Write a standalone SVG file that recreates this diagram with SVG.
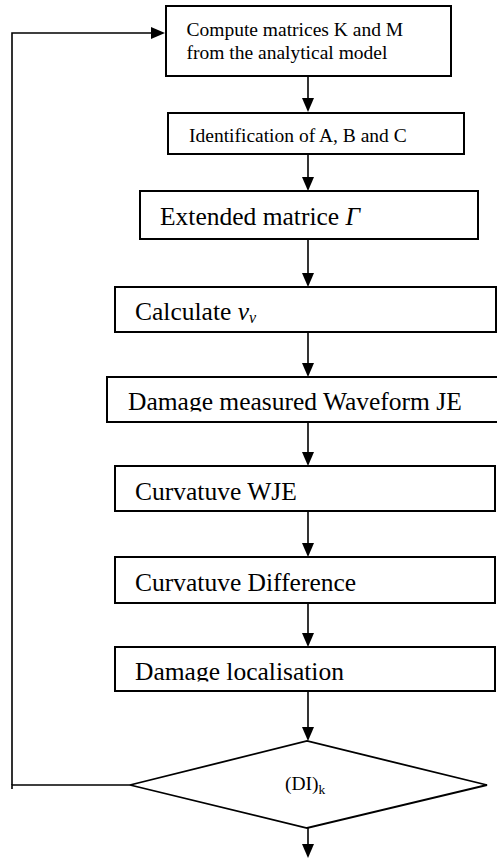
<svg xmlns="http://www.w3.org/2000/svg" width="497" height="862" viewBox="0 0 497 862">
<style>
.box{fill:#fff;stroke:#000;stroke-width:2}
.conn{fill:none;stroke:#000;stroke-width:1.6}
.t{font-family:"Liberation Serif","Times New Roman",serif;fill:#000}
.s{font-size:19.5px}
.l{font-size:25.5px}
</style>
<defs>
<marker id="arr" viewBox="0 0 14 12" refX="6" refY="6" markerWidth="14" markerHeight="12" markerUnits="userSpaceOnUse" orient="auto">
<path d="M0,0 L14,6 L0,12 Z" fill="#000"/>
</marker>
<clipPath id="c5"><rect x="100" y="370" width="397" height="41.5"/></clipPath>
<clipPath id="c8"><rect x="100" y="640" width="397" height="41.5"/></clipPath>
</defs>
<rect width="497" height="862" fill="#fff"/>
<g id="n1">
<rect class="box" x="166" y="6" width="285" height="70"/>
<text class="t s" x="186.5" y="36">Compute matrices K and M</text>
<text class="t s" x="186.5" y="59">from the analytical model</text>
</g>
<g id="n2">
<rect class="box" x="168" y="113" width="296" height="41"/>
<text class="t s" x="189" y="141.5">Identification of A, B and C</text>
</g>
<g id="n3">
<rect class="box" x="140" y="191" width="338" height="48"/>
<text class="t l" x="160" y="225">Extended matrice <tspan font-style="italic">Γ</tspan></text>
</g>
<g id="n4">
<rect class="box" x="115" y="287" width="381" height="45"/>
<text class="t l" x="135" y="320">Calculate <tspan font-style="italic">ν</tspan><tspan font-style="italic" font-size="16" dy="3">ν</tspan></text>
</g>
<g id="n5">
<rect class="box" x="107" y="377" width="400" height="45"/>
<text class="t l" x="128" y="410" clip-path="url(#c5)">Damage measured Waveform JE</text>
</g>
<g id="n6">
<rect class="box" x="115" y="466" width="380" height="45"/>
<text class="t l" x="135" y="500">Curvatuve WJE</text>
</g>
<g id="n7">
<rect class="box" x="115" y="557" width="380" height="46"/>
<text class="t l" x="135" y="591">Curvatuve Difference</text>
</g>
<g id="n8">
<rect class="box" x="115" y="647" width="380" height="44"/>
<text class="t l" x="135" y="680" clip-path="url(#c8)">Damage localisation</text>
</g>
<g id="n9">
<polygon class="box" style="stroke-width:1.8" points="130,785 307,741 487,785 307,828"/>
<text class="t" font-size="19.5" x="285" y="790">(DI)<tspan font-size="13.5" dy="4">k</tspan></text>
</g>
<g id="connectors">
<path class="conn" d="M308,76 V104" marker-end="url(#arr)"/>
<path class="conn" d="M308,154 V183" marker-end="url(#arr)"/>
<path class="conn" d="M308,239 V279" marker-end="url(#arr)"/>
<path class="conn" d="M308,332 V369" marker-end="url(#arr)"/>
<path class="conn" d="M308,422 V458" marker-end="url(#arr)"/>
<path class="conn" d="M308,511 V549" marker-end="url(#arr)"/>
<path class="conn" d="M308,603 V639" marker-end="url(#arr)"/>
<path class="conn" d="M308,691 V733" marker-end="url(#arr)"/>
<path class="conn" d="M308,828 V850" marker-end="url(#arr)"/>
<path class="conn" d="M12,789 V785 H130"/>
<path class="conn" d="M12,785 V33 H157" marker-end="url(#arr)"/>
</g>
</svg>
